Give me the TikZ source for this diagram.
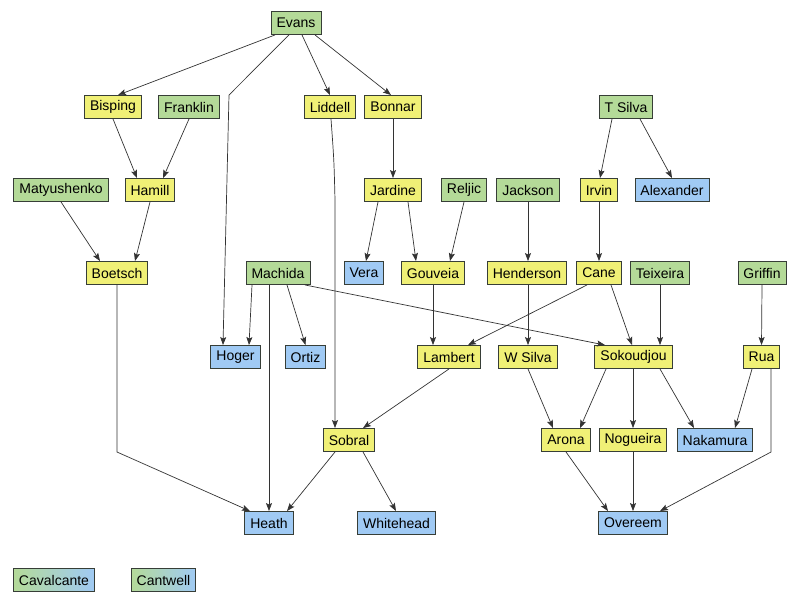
\documentclass[tikz,border=0pt]{standalone}
\usepackage{fontspec}
\setmainfont{Liberation Sans}
\usetikzlibrary{arrows.meta}
\definecolor{fgreen}{RGB}{180,218,152}
\definecolor{fyellow}{RGB}{240,240,118}
\definecolor{fblue}{RGB}{160,202,244}
\definecolor{fline}{RGB}{55,62,55}
\tikzset{
every picture/.style={
line width=0.8pt
}}

\begin{document}
\begin{tikzpicture}[x=1pt, y=-1pt,
block/.style = {rectangle, draw=fline, line width=0.9pt, inner xsep=5.5pt, inner ysep=0pt, minimum height=23pt, font=\fontsize{14}{16}\selectfont},
gblock/.style = {block, fill=fgreen},
yblock/.style = {block, fill=fyellow},
bblock/.style = {block, fill=fblue},
mblock/.style = {block, left color=fgreen, right color=fblue},
edge/.style = {draw=black!80, line width=0.7pt, -{Stealth[length=8pt,width=6pt,inset=1.5pt]}}]

\useasboundingbox (0,0) rectangle (799,603);

\node[gblock] (evans) at (296,23) {Evans};

\node[yblock] (bisping) at (113,107) {Bisping};
\node[gblock] (franklin) at (189,107) {Franklin};
\node[yblock] (liddell) at (330,107) {Liddell};
\node[yblock] (bonnar) at (393,107) {Bonnar};
\node[gblock] (tsilva) at (626,107) {T Silva};

\node[gblock] (matyushenko) at (61,190) {Matyushenko};
\node[yblock] (hamill) at (150,190) {Hamill};
\node[yblock] (jardine) at (393,190) {Jardine};
\node[gblock] (reljic) at (464,190) {Reljic};
\node[gblock] (jackson) at (528,190) {Jackson};
\node[yblock] (irvin) at (599,190) {Irvin};
\node[bblock] (alexander) at (672,190) {Alexander};

\node[yblock] (boetsch) at (117,273) {Boetsch};
\node[gblock] (machida) at (278,273) {Machida};
\node[bblock] (vera) at (364,273) {Vera};
\node[yblock] (gouveia) at (433,273) {Gouveia};
\node[yblock] (henderson) at (527,273) {Henderson};
\node[yblock] (cane) at (599,273) {Cane};
\node[gblock] (teixeira) at (660,273) {Teixeira};
\node[gblock] (griffin) at (762,273) {Griffin};

\node[bblock] (hoger) at (235.5,357) {Hoger};
\node[bblock] (ortiz) at (305.5,357) {Ortiz};
\node[yblock] (lambert) at (449,357) {Lambert};
\node[yblock] (wsilva) at (528,357) {W Silva};
\node[yblock] (sokoudjou) at (633.5,357) {Sokoudjou};
\node[yblock] (rua) at (761.5,357) {Rua};

\node[yblock] (sobral) at (349,440) {Sobral};
\node[yblock] (arona) at (566,440) {Arona};
\node[yblock] (nogueira) at (633,440) {Nogueira};
\node[bblock] (nakamura) at (715,440) {Nakamura};

\node[bblock] (heath) at (269,523) {Heath};
\node[bblock] (whitehead) at (396.5,523) {Whitehead};
\node[bblock] (overeem) at (633,523) {Overeem};

\node[mblock] (cavalcante) at (54,580) {Cavalcante};
\node[mblock] (cantwell) at (163.5,580) {Cantwell};

\coordinate (eh) at (229,95);
\coordinate (ls) at (335,200);
\coordinate (bh) at (117,452);
\coordinate (ro) at (771,452);

\draw [edge] ([xshift=-21pt]evans.south) -- ([xshift=5pt]bisping.north);
\draw [edge] ([xshift=-7pt]evans.south) -- (eh) -- ([xshift=-12.5pt]hoger.north);
\draw [edge] ([xshift=6pt]evans.south) -- (liddell.north);
\draw [edge] ([xshift=19pt]evans.south) -- ([xshift=-2pt]bonnar.north);

\draw [edge] (bisping.south) -- ([xshift=-13pt]hamill.north);
\draw [edge] (franklin.south) -- ([xshift=13pt]hamill.north);
\draw [edge] (matyushenko.south) -- ([xshift=-17pt]boetsch.north);
\draw [edge] (hamill.south) -- ([xshift=18pt]boetsch.north);
\draw [edge] (bonnar.south) -- (jardine.north);
\draw [edge] ([xshift=-15pt]jardine.south) -- ([xshift=2pt]vera.north);
\draw [edge] ([xshift=15pt]jardine.south) -- ([xshift=-17pt]gouveia.north);
\draw [edge] (reljic.south) -- ([xshift=17pt]gouveia.north);
\draw [edge] (jackson.south) -- (henderson.north -| jackson);
\draw [edge] ([xshift=-14pt]tsilva.south) -- ([xshift=1pt]irvin.north);
\draw [edge] ([xshift=14pt]tsilva.south) -- (alexander.north);
\draw [edge] (irvin.south) -- (cane.north);

\draw [edge] ([xshift=-26pt]machida.south) -- ([xshift=13.5pt]hoger.north);
\draw [edge] ([xshift=-9pt]machida.south) -- (heath.north);
\draw [edge] ([xshift=9pt]machida.south) -- (ortiz.north);
\draw [edge] ([xshift=27pt]machida.south) -- ([xshift=-28.5pt]sokoudjou.north);
\draw [edge] ([xshift=1pt]liddell.south) .. controls (334,160) .. (ls) -- ([xshift=-14pt]sobral.north);
\draw [edge] (gouveia.south) -- (lambert.north -| gouveia);
\draw [edge] (wsilva.north |- henderson.south) -- (wsilva.north);
\draw [edge] ([xshift=-12pt]cane.south) -- ([xshift=19pt]lambert.north);
\draw [edge] ([xshift=12pt]cane.south) -- ([xshift=-1.5pt]sokoudjou.north);
\draw [edge] (teixeira.south) -- ([xshift=26.5pt]sokoudjou.north);
\draw [edge] (griffin.south) -- (rua.north);

\draw [edge] (lambert.south) -- ([xshift=14pt]sobral.north);
\draw [edge] (wsilva.south) -- ([xshift=-13pt]arona.north);
\draw [edge] ([xshift=-27.5pt]sokoudjou.south) -- ([xshift=14pt]arona.north);
\draw [edge] (sokoudjou.south -| nogueira) -- (nogueira.north);
\draw [edge] ([xshift=26.5pt]sokoudjou.south) -- ([xshift=-21pt]nakamura.north);
\draw [edge] ([xshift=-9.5pt]rua.south) -- ([xshift=20pt]nakamura.north);
\draw [edge] ([xshift=9.5pt]rua.south) -- (ro) -- ([xshift=27pt]overeem.north);

\draw [edge] (arona.south) -- ([xshift=-25pt]overeem.north);
\draw [edge] (nogueira.south) -- (overeem.north);
\draw [edge] ([xshift=-14pt]sobral.south) -- ([xshift=18pt]heath.north);
\draw [edge] ([xshift=14pt]sobral.south) -- ([xshift=-0.5pt]whitehead.north);
\draw [edge] (boetsch.south) -- (bh) -- ([xshift=-19pt]heath.north);
\end{tikzpicture}
\end{document}
